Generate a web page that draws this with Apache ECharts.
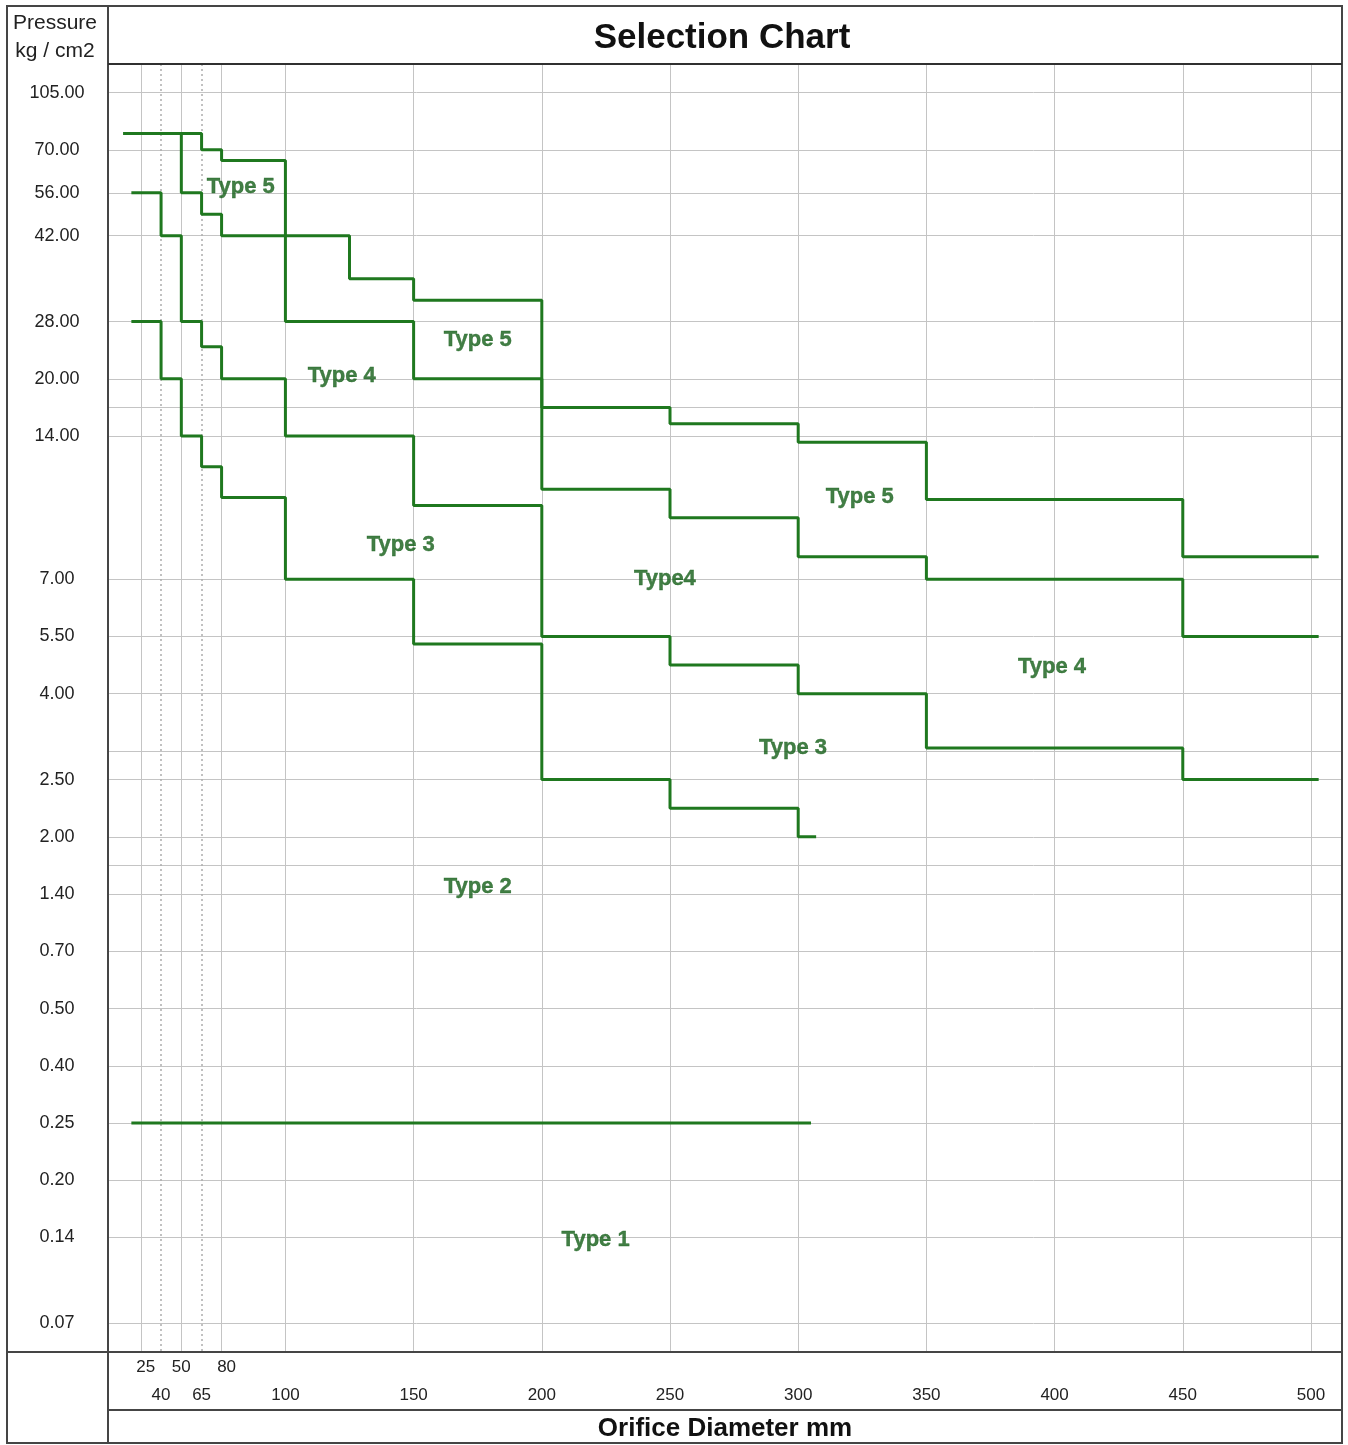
<!DOCTYPE html>
<html>
<head>
<meta charset="utf-8">
<title>Selection Chart</title>
<script src="https://cdn.jsdelivr.net/npm/echarts@6.0.0/dist/echarts.min.js"></script>
<style>
html,body{margin:0;padding:0;background:#fff}
#chart{width:1348px;height:1445px}
</style>
</head>
<body>
<div id="chart"></div>
<script>
// ---- X axis: orifice diameter (mm) ----
const xTickLabels = [25, 40, 50, 65, 80, 100, 150, 200, 250, 300, 350, 400, 450, 500];
// axis scale stops (the chart compresses the small sizes into equal steps)
const xScaleStops = [43.6, 51.5, 59.4, 67.3, 75.1, 100, 150, 200, 250, 300, 350, 400, 450, 500];
const xUpperRow = [25, 50, 80];
const xDotted = [40, 65];

// ---- Y axis: pressure (kg/cm2) ----
const yTickLabels = [105, 70, 56, 42, 28, 20, 14, 7, 5.5, 4, 2.5, 2, 1.4, 0.7, 0.5, 0.4, 0.25, 0.2, 0.14, 0.07];
const yScaleStops = [0, 1, 1.75, 2.5, 4, 5, 6, 8.5, 9.5, 10.5, 12, 13, 14, 15, 16, 17, 18, 19, 20, 21.5];
const yExtraGrid = [17, 3, 1.7];

// ---- Boundary lines: breakpoints (mm) and the pressure level between them ----
const b1Diam  = [12, 65, 80, 100, 150, 200, 250, 300, 350, 450, 503];
const b1Press = [80, 70, 66.5, 28, 20, 11.4, 10, 8.1, 7, 5.5];
const b2Diam  = [12, 50, 65, 80, 125, 150, 200, 250, 300, 350, 450, 503];
const b2Press = [80, 56, 49, 42, 35, 31.5, 17, 15.3, 13.7, 10.9, 8.1];
const b3Diam  = [18, 40, 50, 65, 80, 100, 150, 200, 250, 300, 350, 450, 503];
const b3Press = [56, 42, 28, 24.5, 20, 14, 10.6, 5.5, 4.75, 4, 3.05, 2.5];
const b4Diam  = [18, 40, 50, 65, 80, 100, 150, 200, 250, 300, 307];
const b4Press = [28, 20, 14, 12.5, 11, 7, 5.3, 2.5, 2.25, 2];
const b5Diam  = [18, 305];
const b5Press = [0.25];

// ---- Region labels ----
const regionNames = ['Type 5', 'Type 5', 'Type 5', 'Type 4', 'Type4', 'Type 4', 'Type 3', 'Type 3', 'Type 2', 'Type 1'];
const regionDiam  = [86, 175, 324, 122, 248, 399, 145, 298, 175, 221];
const regionPress = [58, 25.4, 11.0, 20.4, 7.0, 4.7, 8.7, 3.06, 1.47, 0.138];

// ---- scale helpers ----
function interp(v, src, dst) {
  const n = src.length;
  const asc = src[n - 1] > src[0];
  let i = 0;
  for (i = 0; i < n - 2; i++) {
    if (asc ? v <= src[i + 1] : v >= src[i + 1]) break;
  }
  const t = (v - src[i]) / (src[i + 1] - src[i]);
  return dst[i] + t * (dst[i + 1] - dst[i]);
}
const xPos = d => interp(d, xTickLabels, xScaleStops);
const yPos = p => interp(p, yTickLabels, yScaleStops);

function stepPoints(diam, press) {
  const pts = [];
  for (let i = 0; i < press.length; i++) {
    pts.push([xPos(diam[i]), yPos(press[i])]);
    pts.push([xPos(diam[i + 1]), yPos(press[i])]);
  }
  return pts;
}

const FONT = "'Liberation Sans', Arial, Helvetica, sans-serif";
const GREEN = '#1f781f';
const LABEL_GREEN = '#135e16';
const GRID = '#c4c4c4';
const FRAME = '#454545';

const xLower = xTickLabels.filter(v => xUpperRow.indexOf(v) < 0);
function xLabel(v) {
  for (let i = 0; i < xScaleStops.length; i++) if (Math.abs(xScaleStops[i] - v) < 1e-6) return String(xTickLabels[i]);
  return '';
}
function xLabelUpper(v) {
  const s = xLabel(v);
  return s === '50' ? '{c|' + s + '}' : '{r|' + s + '}';
}
function yLabel(v) {
  for (let i = 0; i < yScaleStops.length; i++) if (Math.abs(yScaleStops[i] - v) < 1e-6) return yTickLabels[i].toFixed(2);
  return '';
}

const gridLines = [];
yTickLabels.concat(yExtraGrid).forEach(p => {
  gridLines.push({ yAxis: yPos(p), lineStyle: { color: GRID, width: 1, type: 'solid' } });
});
xTickLabels.forEach(d => {
  const dotted = xDotted.indexOf(d) >= 0;
  gridLines.push({ xAxis: xPos(d), lineStyle: { color: dotted ? '#adadad' : GRID, width: dotted ? 1.5 : 1, type: dotted ? [2, 3] : 'solid' } });
});

const stepSeries = [[b1Diam, b1Press], [b2Diam, b2Press], [b3Diam, b3Press], [b4Diam, b4Press], [b5Diam, b5Press]].map((b, i) => ({
  name: 'boundary' + (i + 1),
  type: 'line',
  data: stepPoints(b[0], b[1]),
  symbol: 'none',
  lineStyle: { color: GREEN, width: 3 },
  z: 8,
  silent: true
}));

const X_MIN = 30.8, X_MAX = 512.1;
const tickFont = { fontSize: 17, color: '#222', fontFamily: FONT };

const option = {
  animation: false,
  backgroundColor: '#ffffff',
  textStyle: { fontFamily: FONT },
  title: [
    { text: 'Selection Chart', left: 717, top: 16, textAlign: 'center',
      textStyle: { fontSize: 35, fontWeight: 'bold', color: '#111', fontFamily: FONT } },
    { text: 'Pressure\nkg / cm2', left: 50, top: 4, textAlign: 'center',
      textStyle: { fontSize: 21, fontWeight: 'normal', color: '#222', lineHeight: 28, fontFamily: FONT } }
  ],
  grid: { left: 108, right: 6, top: 64, bottom: 93, show: false, containLabel: false, outerBoundsMode: 'none' },
  xAxis: [
    { type: 'value', min: X_MIN, max: X_MAX, position: 'bottom',
      name: 'Orifice Diameter mm', nameLocation: 'middle', nameGap: 64,
      nameTextStyle: { fontSize: 26, fontWeight: 'bold', color: '#111', fontFamily: FONT },
      axisLine: { show: false }, axisTick: { show: false }, splitLine: { show: false },
      axisLabel: Object.assign({ customValues: xLower.map(xPos), formatter: xLabel, margin: 35 }, tickFont) },
    { type: 'value', min: X_MIN, max: X_MAX, position: 'bottom',
      axisLine: { show: false }, axisTick: { show: false }, splitLine: { show: false },
      axisLabel: Object.assign({ customValues: xUpperRow.map(xPos), formatter: xLabelUpper, margin: 7,
        rich: { r: Object.assign({ padding: [0, 0, 0, 10] }, tickFont), c: Object.assign({}, tickFont) } }, tickFont) }
  ],
  yAxis: {
    type: 'value', inverse: true, min: -0.5, max: 22,
    axisLine: { show: false }, axisTick: { show: false }, splitLine: { show: false },
    axisLabel: { customValues: yScaleStops, formatter: yLabel, margin: 51, align: 'center', fontSize: 18, color: '#222', fontFamily: FONT }
  },
  graphic: [
    { type: 'rect', z: 10, silent: true, shape: { x: 7, y: 6, width: 1335, height: 1437 }, style: { fill: null, stroke: FRAME, lineWidth: 2 } },
    { type: 'line', z: 10, silent: true, shape: { x1: 108, y1: 6, x2: 108, y2: 1443 }, style: { stroke: FRAME, lineWidth: 2 } },
    { type: 'line', z: 10, silent: true, shape: { x1: 108, y1: 64, x2: 1342, y2: 64 }, style: { stroke: '#303030', lineWidth: 2 } },
    { type: 'line', z: 10, silent: true, shape: { x1: 7, y1: 1352, x2: 1342, y2: 1352 }, style: { stroke: FRAME, lineWidth: 2 } },
    { type: 'line', z: 10, silent: true, shape: { x1: 108, y1: 1410, x2: 1342, y2: 1410 }, style: { stroke: FRAME, lineWidth: 2 } }
  ],
  series: [
    { name: 'grid', type: 'line', data: [], z: 1, silent: true,
      markLine: { z: 1, silent: true, symbol: ['none', 'none'], label: { show: false }, animation: false, data: gridLines } }
  ].concat(stepSeries).concat([
    { name: 'regions', type: 'scatter', z: 9, silent: true, symbolSize: 1,
      itemStyle: { color: 'rgba(0,0,0,0)' },
      data: regionNames.map((n, i) => ({ name: n, value: [xPos(regionDiam[i]), yPos(regionPress[i])] })),
      label: { show: true, position: 'inside', formatter: '{b}', fontSize: 22, fontWeight: 'bold', color: LABEL_GREEN,
               textBorderColor: LABEL_GREEN, textBorderWidth: 0.4, fontFamily: FONT } }
  ])
};

const chart = echarts.init(document.getElementById('chart'), null, { renderer: 'canvas' });
chart.setOption(option);
</script>
</body>
</html>
